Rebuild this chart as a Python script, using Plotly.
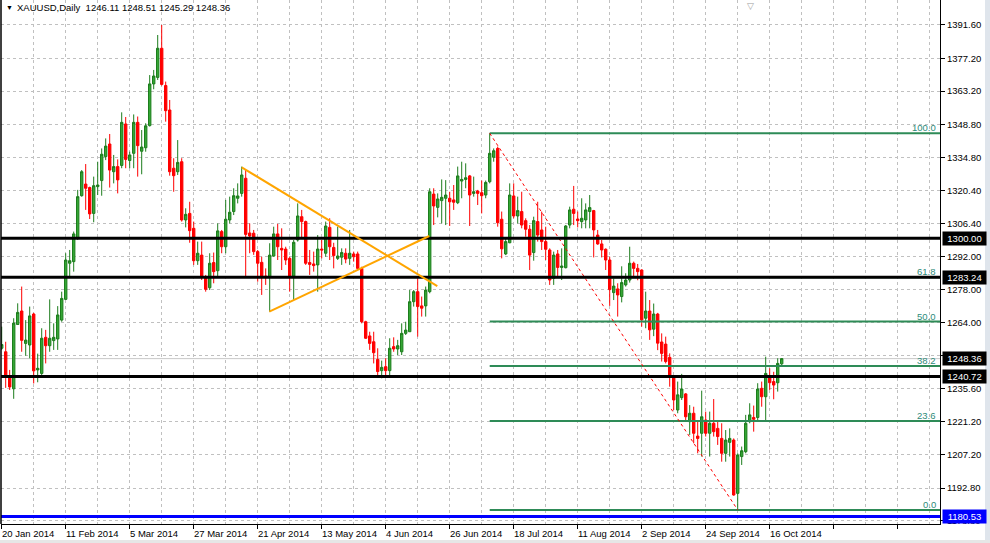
import plotly.graph_objects as go

# ---------------- data ----------------
opens = [1252.8, 1251.3, 1240.6, 1235.4, 1263.0, 1268.8, 1254.9, 1254.2, 1267.5, 1243.5,
         1242.0, 1257.5, 1253.9, 1256.1, 1256.8, 1264.9, 1273.8, 1289.3, 1290.0, 1300.0,
         1318.3, 1323.3, 1321.8, 1310.7, 1322.2, 1324.8, 1335.1, 1340.5, 1328.6, 1330.8,
         1331.3, 1349.1, 1333.4, 1336.5, 1349.8, 1337.4, 1338.9, 1348.4, 1366.3, 1369.1,
         1381.6, 1365.6, 1355.1, 1330.1, 1328.6, 1332.9, 1307.9, 1310.7, 1304.3, 1290.4,
         1292.8, 1283.5, 1278.8, 1289.6, 1286.1, 1302.9, 1296.4, 1307.9, 1311.5, 1317.2,
         1319.3, 1325.8, 1302.3, 1302.2, 1294.3, 1289.7, 1283.8, 1283.5, 1292.4, 1301.9,
         1295.7, 1295.4, 1291.4, 1283.8, 1299.3, 1309.3, 1307.2, 1289.6, 1289.0, 1288.6,
         1295.4, 1293.6, 1304.7, 1296.1, 1291.4, 1291.9, 1293.6, 1291.4, 1293.3, 1293.3,
         1287.1, 1264.2, 1258.1, 1255.6, 1248.0, 1243.2, 1244.9, 1243.2, 1253.5, 1252.5,
         1251.3, 1259.2, 1259.9, 1272.8, 1277.1, 1271.0, 1271.0, 1277.1, 1319.0, 1313.3,
         1316.2, 1317.2, 1317.2, 1316.5, 1315.3, 1324.6, 1325.3, 1326.8, 1319.3, 1320.3,
         1319.6, 1318.6, 1324.3, 1334.8, 1338.6, 1308.2, 1293.3, 1298.1, 1318.2, 1309.6,
         1311.5, 1307.6, 1303.9, 1293.9, 1307.2, 1303.6, 1298.6, 1295.0, 1282.8, 1293.3,
         1287.5, 1287.4, 1305.7, 1312.5, 1308.3, 1307.2, 1307.9, 1311.5, 1311.9, 1301.4,
         1297.6, 1295.3, 1290.7, 1276.7, 1278.3, 1275.0, 1280.0, 1282.1, 1289.3, 1287.1,
         1286.4, 1265.7, 1268.8, 1261.0, 1267.5, 1255.5, 1254.6, 1248.9, 1240.9, 1226.3,
         1231.6, 1233.2, 1221.3, 1224.9, 1215.1, 1216.3, 1222.0, 1216.3, 1220.6, 1218.4,
         1214.1, 1207.7, 1212.4, 1213.4, 1190.5, 1206.3, 1208.4, 1221.3, 1223.1, 1223.1,
         1235.6, 1232.0, 1240.6, 1238.5, 1238.0, 1246.11]
highs = [1262.1, 1255.6, 1243.5, 1265.7, 1272.1, 1279.3, 1264.9, 1270.7, 1268.0, 1250.5,
         1261.4, 1260.7, 1273.8, 1263.5, 1270.9, 1277.1, 1293.6, 1295.0, 1302.9, 1320.8,
         1329.3, 1331.9, 1322.2, 1326.5, 1332.9, 1338.6, 1342.9, 1344.8, 1335.8, 1333.9,
         1354.1, 1352.1, 1337.2, 1353.2, 1352.3, 1346.5, 1349.4, 1370.1, 1372.3, 1387.3,
         1391.6, 1367.3, 1359.4, 1334.4, 1342.2, 1334.4, 1312.9, 1315.7, 1307.2, 1298.6,
         1298.6, 1284.3, 1293.6, 1293.9, 1306.4, 1303.6, 1316.5, 1317.9, 1321.5, 1323.6,
         1330.8, 1329.3, 1306.4, 1303.6, 1295.0, 1292.1, 1287.1, 1297.9, 1305.0, 1306.2,
         1304.3, 1296.4, 1292.1, 1299.3, 1315.0, 1312.2, 1307.6, 1295.0, 1294.3, 1301.4,
         1299.3, 1307.2, 1308.6, 1298.1, 1305.0, 1295.7, 1295.7, 1303.6, 1294.3, 1294.3,
         1287.8, 1264.6, 1259.9, 1259.9, 1252.8, 1247.5, 1248.5, 1257.1, 1257.5, 1256.4,
         1263.5, 1264.2, 1277.8, 1277.8, 1282.8, 1275.0, 1279.3, 1321.5, 1321.5, 1319.3,
         1325.3, 1325.0, 1320.0, 1322.9, 1330.8, 1332.9, 1332.2, 1327.2, 1326.5, 1320.8,
         1324.8, 1324.8, 1345.1, 1338.6, 1339.4, 1311.5, 1300.0, 1323.6, 1323.6, 1317.9,
         1320.0, 1308.6, 1305.7, 1309.3, 1315.7, 1311.5, 1305.0, 1295.7, 1294.3, 1295.0,
         1295.7, 1305.7, 1313.6, 1322.5, 1311.5, 1317.2, 1315.0, 1318.6, 1312.2, 1303.6,
         1299.3, 1295.7, 1292.1, 1282.8, 1280.7, 1288.0, 1285.0, 1296.4, 1290.0, 1289.0,
         1286.7, 1277.1, 1273.5, 1272.0, 1268.0, 1259.2, 1257.8, 1250.6, 1241.3, 1238.5,
         1241.8, 1233.6, 1228.4, 1227.7, 1221.3, 1234.6, 1225.6, 1225.6, 1231.0, 1222.0,
         1220.6, 1217.7, 1218.4, 1214.1, 1207.7, 1210.6, 1224.2, 1229.2, 1228.2, 1237.8,
         1238.5, 1249.2, 1244.2, 1242.7, 1248.5, 1248.51]
lows = [1252.1, 1235.8, 1234.9, 1231.1, 1262.8, 1251.3, 1249.6, 1248.5, 1237.7, 1238.2,
        1240.6, 1246.3, 1251.3, 1252.1, 1252.1, 1264.2, 1273.5, 1283.5, 1285.7, 1299.3,
        1317.9, 1312.2, 1308.3, 1306.9, 1318.6, 1318.3, 1333.6, 1321.8, 1323.6, 1319.3,
        1330.1, 1330.1, 1330.1, 1330.1, 1326.5, 1327.5, 1337.2, 1348.0, 1364.0, 1368.0,
        1365.6, 1350.1, 1326.9, 1320.0, 1327.2, 1307.2, 1304.7, 1298.1, 1288.6, 1288.6,
        1282.1, 1277.1, 1277.8, 1280.7, 1283.5, 1293.6, 1293.6, 1306.4, 1310.0, 1315.0,
        1317.9, 1283.5, 1293.6, 1292.9, 1281.4, 1275.7, 1280.0, 1268.5, 1292.1, 1290.7,
        1286.4, 1288.6, 1277.1, 1273.5, 1298.6, 1300.0, 1288.6, 1284.3, 1285.7, 1277.1,
        1291.4, 1292.1, 1290.7, 1287.1, 1290.7, 1288.6, 1289.3, 1288.6, 1290.0, 1286.4,
        1263.5, 1256.8, 1252.1, 1246.3, 1240.6, 1239.9, 1241.3, 1241.3, 1251.3, 1249.9,
        1249.9, 1258.5, 1259.9, 1270.7, 1257.8, 1266.4, 1266.4, 1276.4, 1305.7, 1309.0,
        1306.4, 1305.7, 1305.3, 1312.2, 1314.7, 1317.2, 1321.5, 1305.3, 1317.9, 1314.3,
        1310.7, 1317.2, 1323.6, 1332.9, 1305.0, 1291.4, 1292.8, 1297.9, 1308.6, 1306.4,
        1304.3, 1300.7, 1286.4, 1290.4, 1298.6, 1295.0, 1290.7, 1280.0, 1280.0, 1283.5,
        1282.1, 1287.1, 1304.3, 1305.7, 1304.7, 1304.3, 1304.3, 1304.3, 1291.8, 1297.2,
        1291.8, 1286.4, 1271.0, 1273.5, 1266.4, 1272.5, 1279.3, 1281.0, 1283.0, 1282.0,
        1262.1, 1261.4, 1256.4, 1258.0, 1252.0, 1247.1, 1246.3, 1236.3, 1226.3, 1224.9,
        1230.6, 1221.3, 1215.6, 1212.0, 1207.7, 1206.3, 1214.9, 1206.3, 1214.9, 1211.3,
        1204.1, 1204.1, 1206.3, 1189.5, 1183.4, 1202.7, 1207.7, 1220.6, 1217.0, 1222.0,
        1227.7, 1221.3, 1234.9, 1230.9, 1234.2, 1245.29]
closes = [1254.4, 1240.6, 1236.2, 1263.6, 1268.2, 1256.2, 1256.3, 1266.7, 1243.1, 1244.2,
          1257.1, 1253.9, 1257.1, 1257.5, 1267.1, 1274.2, 1290.7, 1290.4, 1301.9, 1317.9,
          1328.6, 1321.5, 1310.5, 1322.6, 1322.9, 1336.1, 1339.6, 1329.3, 1330.8, 1325.1,
          1349.8, 1333.9, 1335.8, 1349.8, 1339.8, 1339.2, 1348.3, 1366.3, 1369.7, 1381.6,
          1366.1, 1354.8, 1328.6, 1326.9, 1332.6, 1307.9, 1310.3, 1303.3, 1290.4, 1293.6,
          1283.5, 1278.1, 1289.3, 1285.7, 1303.2, 1296.4, 1308.2, 1311.2, 1318.3, 1318.2,
          1327.2, 1301.7, 1301.0, 1294.3, 1289.3, 1283.5, 1283.3, 1292.8, 1301.9, 1296.4,
          1295.0, 1290.7, 1283.5, 1298.3, 1309.6, 1307.2, 1289.3, 1288.8, 1288.3, 1295.4,
          1295.0, 1305.3, 1296.4, 1292.6, 1292.4, 1293.9, 1291.1, 1293.6, 1292.1, 1287.1,
          1264.2, 1257.1, 1254.9, 1250.9, 1242.8, 1244.6, 1243.2, 1252.8, 1252.5, 1253.9,
          1259.2, 1260.6, 1272.8, 1277.1, 1270.7, 1270.0, 1277.8, 1320.0, 1313.9, 1316.9,
          1317.6, 1318.6, 1315.7, 1315.5, 1326.8, 1325.3, 1326.0, 1318.6, 1320.0, 1319.3,
          1318.3, 1324.0, 1336.5, 1337.6, 1306.7, 1295.5, 1298.6, 1318.6, 1309.6, 1311.9,
          1305.7, 1303.9, 1292.8, 1307.6, 1301.4, 1298.6, 1295.3, 1282.1, 1292.8, 1287.5,
          1288.1, 1305.3, 1312.2, 1310.7, 1307.6, 1308.6, 1312.2, 1313.2, 1303.6, 1297.6,
          1295.0, 1290.7, 1278.0, 1279.5, 1275.7, 1281.0, 1282.1, 1289.3, 1287.1, 1285.7,
          1265.0, 1268.8, 1260.7, 1267.5, 1255.0, 1250.6, 1247.1, 1240.6, 1230.6, 1232.8,
          1235.3, 1223.4, 1224.9, 1216.3, 1214.1, 1223.4, 1216.3, 1220.6, 1217.0, 1214.9,
          1207.7, 1213.4, 1214.1, 1189.8, 1207.0, 1208.8, 1220.6, 1224.2, 1222.3, 1235.3,
          1232.0, 1242.0, 1238.0, 1237.0, 1246.3, 1248.36]

date_labels = ["20 Jan 2014", "11 Feb 2014", "5 Mar 2014", "27 Mar 2014", "21 Apr 2014",
               "13 May 2014", "4 Jun 2014", "26 Jun 2014", "18 Jul 2014", "11 Aug 2014",
               "2 Sep 2014", "24 Sep 2014", "16 Oct 2014"]
date_label_bars = [0, 16, 32, 48, 64, 80, 96, 112, 128, 144, 160, 176, 192]
grid_bars_minor = [8, 24, 40, 56, 72, 88, 104, 120, 136, 152, 168, 184, 200, 216, 232]
grid_bars_major_extra = [208, 224]

price_ticks = [1391.60, 1377.20, 1363.20, 1348.80, 1334.80, 1320.40, 1306.40, 1292.00,
               1278.00, 1264.00, 1249.60, 1235.60, 1221.20, 1207.20, 1192.80, 1178.80]

black_levels = [1300.00, 1283.24, 1240.72]
blue_level = 1180.53
last_price = 1248.36
ohlc_header = "XAUUSD,Daily  1246.11 1248.51 1245.29 1248.36"

fib_start_bar, fib_high = 122, 1345.1
fib_end_bar, fib_low = 184, 1183.4
fib_ratios = [1.0, 0.618, 0.5, 0.382, 0.236, 0.0]
fib_texts = ["100.0", "61.8", "50.0", "38.2", "23.6", "0.0"]

tri_upper = [(60.0, 1330.5), (108.9, 1279.5)]
tri_lower = [(66.9, 1268.5), (106.9, 1301.0)]

# ---------------- figure ----------------
X_MIN, X_MAX = -0.175, 234.575
Y_MIN, Y_MAX = 1177.35, 1402.33
FONT = "Liberation Sans, Arial, sans-serif"
FS = 9.5

bars = list(range(len(opens)))

fig = go.Figure()
fig.add_trace(go.Candlestick(
    x=bars, open=opens, high=highs, low=lows, close=closes,
    increasing=dict(line=dict(color="#1d7d1d", width=1), fillcolor="#34a634"),
    decreasing=dict(line=dict(color="#ff0000", width=1), fillcolor="#ff0000"),
    whiskerwidth=0, hoverinfo="skip", showlegend=False,
))

shapes = []
# current price thin line
shapes.append(dict(type="line", xref="paper", x0=0, x1=1, yref="y", y0=last_price, y1=last_price,
                   line=dict(color="#c8c8c8", width=1), layer="below"))
# fibonacci levels
fib_range = fib_high - fib_low
fib_levels = [fib_low + r * fib_range for r in fib_ratios]
for lv in fib_levels:
    shapes.append(dict(type="line", xref="x", x0=fib_start_bar, x1=X_MAX, yref="y", y0=lv, y1=lv,
                       line=dict(color="#2e8b57", width=2)))
# fib diagonal
shapes.append(dict(type="line", xref="x", yref="y", x0=fib_start_bar, y0=fib_high,
                   x1=fib_end_bar, y1=fib_low, line=dict(color="#ff0000", width=1, dash="dot")))
# black horizontal levels
for lv in black_levels:
    shapes.append(dict(type="line", xref="paper", x0=0, x1=1, yref="y", y0=lv, y1=lv,
                       line=dict(color="#000000", width=3)))
# blue level
shapes.append(dict(type="line", xref="paper", x0=0, x1=1, yref="y", y0=blue_level, y1=blue_level,
                   line=dict(color="#0000ff", width=3)))
# triangle lines
for seg in (tri_upper, tri_lower):
    shapes.append(dict(type="line", xref="x", yref="y", x0=seg[0][0], y0=seg[0][1],
                       x1=seg[1][0], y1=seg[1][1], line=dict(color="#ffa500", width=2)))
# left border
shapes.append(dict(type="line", xref="paper", yref="paper", x0=0, x1=0, y0=0, y1=1,
                   line=dict(color="#000000", width=1.5)))
# right / bottom window strips
shapes.append(dict(type="rect", xref="paper", yref="paper", x0=1.0479, x1=1.06, y0=-0.05, y1=1.01,
                   line=dict(width=0), fillcolor="#dfe5ec"))
shapes.append(dict(type="rect", xref="paper", yref="paper", x0=-0.01, x1=1.06, y0=-0.05, y1=-0.0305,
                   line=dict(width=0), fillcolor="#e6e6e6"))

annotations = []
# header
annotations.append(dict(xref="paper", yref="paper", x=0, y=1, xanchor="left", yanchor="top",
                        xshift=3, yshift=-2, text="▼", showarrow=False,
                        font=dict(family=FONT, size=7, color="#000000")))
annotations.append(dict(xref="paper", yref="paper", x=0, y=1, xanchor="left", yanchor="top",
                        xshift=14, yshift=0, text=ohlc_header, showarrow=False,
                        font=dict(family=FONT, size=FS, color="#000000")))
# chart shift marker
annotations.append(dict(xref="paper", yref="paper", x=749 / 939, y=1, xanchor="center", yanchor="top",
                        yshift=1, text="▽", showarrow=False,
                        font=dict(family=FONT, size=9, color="#a0a0a0")))
# date labels
for b, t in zip(date_label_bars, date_labels):
    annotations.append(dict(xref="x", yref="paper", x=b, y=0, xanchor="left", yanchor="top",
                            xshift=-2, yshift=-2, text=t, showarrow=False,
                            font=dict(family=FONT, size=FS, color="#000000")))
# fib labels
for lv, t in zip(fib_levels, fib_texts):
    annotations.append(dict(xref="paper", yref="y", x=1, y=lv, xanchor="right", yanchor="bottom",
                            xshift=-2, yshift=-2, text=t, showarrow=False,
                            font=dict(family=FONT, size=FS, color="#2e8b7a")))
# price boxes on the axis
for lv, bg in [(black_levels[0], "#000000"), (black_levels[1], "#000000"),
               (last_price, "#000000"), (black_levels[2], "#000000"), (blue_level, "#0000ff")]:
    annotations.append(dict(xref="paper", yref="y", x=1, y=lv, xanchor="left", yanchor="middle",
                            xshift=2, text=f"{lv:.2f}", showarrow=False, bgcolor=bg,
                            borderpad=1, width=41, align="center",
                            font=dict(family=FONT, size=FS, color="#ffffff")))

grid = dict(gridcolor="#c0c0c0", griddash="3px,3px", gridwidth=1)

fig.update_layout(
    width=990, height=543, autosize=False,
    margin=dict(l=1, r=50, t=0, b=19, pad=0),
    paper_bgcolor="#ffffff", plot_bgcolor="#ffffff",
    boxgap=0.4, boxgroupgap=0,
    showlegend=False, hovermode=False,
    shapes=shapes, annotations=annotations,
    xaxis=dict(range=[X_MIN, X_MAX], tickvals=date_label_bars + grid_bars_major_extra,
               showticklabels=False, ticks="outside", ticklen=4, tickcolor="#000000",
               showgrid=True, zeroline=False, showline=True, linecolor="#000000", linewidth=1,
               rangeslider=dict(visible=False), fixedrange=True,
               minor=dict(tickvals=grid_bars_minor, showgrid=True, ticks="", **grid), **grid),
    yaxis=dict(range=[Y_MIN, Y_MAX], side="right", tickvals=price_ticks,
               ticktext=[f"{v:.2f}" for v in price_ticks],
               ticks="outside", ticklen=4, tickcolor="#000000",
               tickfont=dict(family=FONT, size=FS, color="#000000"),
               showgrid=True, zeroline=False, showline=True, linecolor="#000000", linewidth=1,
               fixedrange=True, **grid),
)

fig.write_html("out.html", config={"displayModeBar": False},
               post_script="document.body.style.margin='0';document.body.style.overflow='hidden';")
